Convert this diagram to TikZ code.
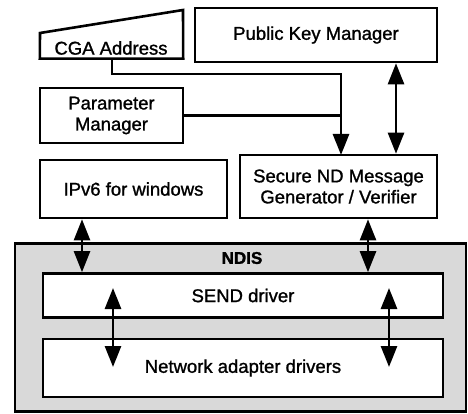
\documentclass[tikz,border=0pt]{standalone}
\usepackage{fontspec}
\setmainfont[FakeBold=1.2]{Liberation Sans}
\newfontfamily\boldlbl[FakeBold=1.5]{Liberation Sans Bold}
\usetikzlibrary{arrows.meta,calc}
\begin{document}
\begin{tikzpicture}[x=1pt,y=-1pt,
  box/.style={draw=black,line width=2.6pt,fill=white,inner sep=0pt,align=center,
    font=\fontsize{18.5}{21}\selectfont},
  lbl/.style={inner sep=0pt,align=center,font=\fontsize{18.5}{21}\selectfont},
  conn/.style={line width=2.6pt},
  tip/.style={-{Triangle[length=21pt,width=16pt]}},
  dtip/.style={{Triangle[length=21pt,width=16pt]}-{Triangle[length=21pt,width=16pt]}}]
\useasboundingbox (0,0) rectangle (468,414);
% NDIS area
\node[draw=black,line width=2.6pt,fill=gray!30,minimum width=451pt,minimum height=168pt,inner sep=0pt] (ndis) at (240.5,327.5) {};
\node[inner sep=0pt,font=\fontsize{17}{20}\selectfont\boldlbl] (ndislbl) at (242,258) {NDIS};
\node[box,minimum width=400pt,minimum height=44pt] (send) at (243,295.5) {SEND driver};
\node[box,minimum width=400pt,minimum height=58pt] (nad) at (243,368) {Network adapter drivers};
% upper boxes
\node[box,minimum width=242pt,minimum height=54pt] (pkm) at (316,35) {Public Key Manager};
\node[box,minimum width=143pt,minimum height=55pt] (par) at (111.5,115.5) {Parameter\\Manager};
\node[box,minimum width=187pt,minimum height=58pt] (ipv6) at (133.5,189) {IPv6 for windows};
\node[box,minimum width=197pt,minimum height=63pt] (sec) at (338.5,186.5) {Secure ND Message\\Generator / Verifier};
% CGA trapezoid
\node[lbl,minimum width=143pt,minimum height=25pt] (cga) at (111.5,46) {};
\draw[line width=2.6pt,line join=miter] (cga.south west) -- (40,33) -- (183,10) -- (cga.south east) -- cycle;
\node[lbl] (cgatext) at (111,48) {CGA Address};
% connectors
\coordinate (cgaout) at (112,58);
\coordinate (bend) at (112,74);
\coordinate (secin) at (341,155);
\draw[conn,tip] (cgaout) -- (bend) -| (secin);
\draw[conn] (par.east) -- (par.east -| secin);
\draw[conn,dtip] (pkm.south -| 396,0) -- (sec.north -| 396,0);
\draw[conn,dtip] (ipv6.south -| 82,0) -- (send.north -| 82,0);
\draw[conn,dtip] (sec.south -| 368,0) -- (send.north -| 368,0);
\coordinate (l1) at (113,288);
\coordinate (l2) at (113,367);
\coordinate (r1) at (389,288);
\coordinate (r2) at (389,367);
\draw[conn,dtip] (l1) -- (l2);
\draw[conn,dtip] (r1) -- (r2);
\end{tikzpicture}
\end{document}
